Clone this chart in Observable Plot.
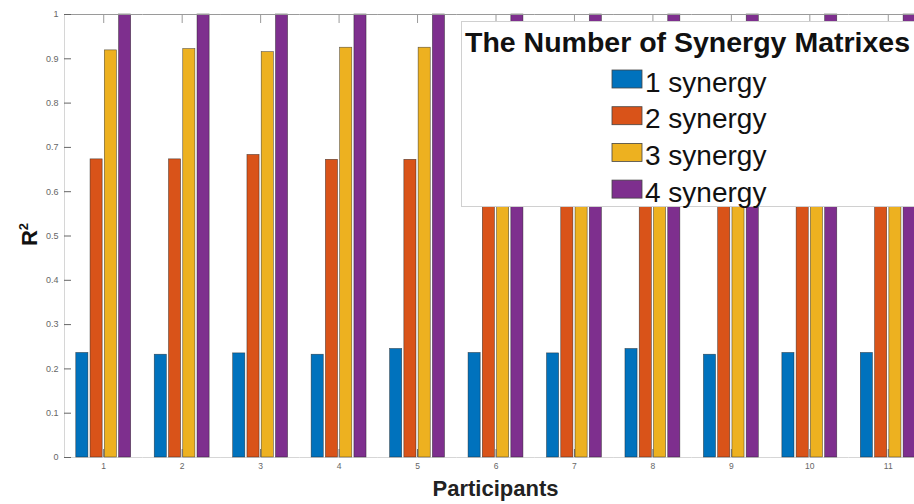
<!DOCTYPE html>
<html>
<head>
<meta charset="utf-8">
<script src="https://cdn.jsdelivr.net/npm/d3@7"></script>
<script src="https://cdn.jsdelivr.net/npm/@observablehq/plot@0.6"></script>
<style>
  html, body { margin: 0; padding: 0; background: #fff; overflow: hidden; }
  #chart { position: relative; width: 914px; height: 504px; overflow: hidden;
           font-family: "Liberation Sans", Arial, Helvetica, sans-serif; }
  #chart > svg { position: absolute; left: 0; top: 0; }
</style>
</head>
<body>
<div id="chart"></div>
<script>
// Participants and the four synergy counts
const participants = [1, 2, 3, 4, 5, 6, 7, 8, 9, 10, 11];
const seriesNames = ["1 synergy", "2 synergy", "3 synergy", "4 synergy"];

// R² per participant for each number of synergies
const oneSynergy   = [0.236, 0.232, 0.235, 0.232, 0.245, 0.236, 0.235, 0.245, 0.232, 0.236, 0.236];
const twoSynergy   = [0.673, 0.673, 0.683, 0.672, 0.672, 0.675, 0.674, 0.677, 0.672, 0.674, 0.676];
const threeSynergy = [0.919, 0.922, 0.915, 0.925, 0.925, 0.921, 0.920, 0.923, 0.918, 0.921, 0.922];
const fourSynergy  = [1, 1, 1, 1, 1, 1, 1, 1, 1, 1, 1];

const seriesColors = ["#0072BD", "#D95319", "#EDB120", "#7E2F8E"];

const yTicks = [0, 0.1, 0.2, 0.3, 0.4, 0.5, 0.6, 0.7, 0.8, 0.9, 1];
const yTickLabels = ["0", "0.1", "0.2", "0.3", "0.4", "0.5", "0.6", "0.7", "0.8", "0.9", "1"];

const legendTitle = "The Number of Synergy Matrixes";
const xLabel = "Participants";
const yLabel = "R";
const yLabelSup = "2";

const seriesValues = [oneSynergy, twoSynergy, threeSynergy, fourSynergy];
const rows = participants.flatMap((p, i) =>
  seriesNames.map((s, k) => ({participant: p, series: s, value: seriesValues[k][i]}))
);

const FONT = '"Liberation Sans", Arial, Helvetica, sans-serif';

const plot = Plot.plot({
  width: 927,
  height: 504,
  marginLeft: 64,
  marginRight: 0,
  marginTop: 14,
  marginBottom: 47,
  style: {fontFamily: FONT, background: "white", maxWidth: "none"},
  fx: {domain: participants, round: false, paddingInner: 0, paddingOuter: 0, label: null},
  x: {domain: seriesNames, round: false, paddingInner: 0.15, paddingOuter: 0.826, axis: null},
  y: {domain: [0, 1], label: null},
  color: {domain: seriesNames, range: seriesColors},
  marks: [
    Plot.ruleY([0], {stroke: "#d6d6d6"}),
    Plot.barY(rows, {
      fx: "participant", x: "series", y: "value", fill: "series",
      stroke: "#1e1e1e", strokeWidth: 0.6, strokeOpacity: 0.7
    }),
    Plot.ruleY([1], {stroke: "#9a9a9a"}),
    Plot.frame({anchor: "left", facetAnchor: "left", stroke: "#d6d6d6"}),
    Plot.axisY(yTicks, {
      tickSize: -7, tickPadding: 13,
      tickFormat: d => yTickLabels[yTicks.indexOf(d)],
      fontSize: 9, color: "#666", label: null
    }),
    Plot.axisFx({anchor: "bottom", tickSize: -8, tickPadding: 13, fontSize: 8.5, color: "#666", label: null}),
    Plot.axisFx({anchor: "top", tickSize: -8, tickFormat: () => "", color: "#9a9a9a", label: null})
  ]
});
plot.style.maxWidth = "none";
document.getElementById("chart").appendChild(plot);

// Axis titles and the legend box drawn on top of the plot
const overlay = d3.select("#chart").append("svg")
  .attr("width", 914).attr("height", 504)
  .style("font-family", FONT)
  .style("pointer-events", "none");

overlay.append("text")
  .attr("transform", "translate(37,234.5) rotate(-90)")
  .attr("text-anchor", "middle")
  .attr("font-weight", "bold")
  .attr("font-size", 22)
  .attr("fill", "#111")
  .call(t => {
    t.append("tspan").text(yLabel);
    t.append("tspan").attr("font-size", 13).attr("dy", -9).text(yLabelSup);
  });

overlay.append("text")
  .attr("x", 495.5).attr("y", 496)
  .attr("text-anchor", "middle")
  .attr("font-weight", "bold")
  .attr("font-size", 22)
  .attr("fill", "#222")
  .text(xLabel);

const legend = overlay.append("g");
legend.append("rect")
  .attr("x", 461.5).attr("y", 21.5)
  .attr("width", 480).attr("height", 185)
  .attr("fill", "white").attr("stroke", "#d0d0d0");
legend.append("text")
  .attr("x", 465).attr("y", 52)
  .attr("font-weight", "bold").attr("font-size", 28.5)
  .attr("fill", "#111")
  .text(legendTitle);
seriesNames.forEach((name, k) => {
  const y0 = 70 + k * 36.7;
  legend.append("rect")
    .attr("x", 612).attr("y", y0).attr("width", 30).attr("height", 18)
    .attr("fill", seriesColors[k]).attr("stroke", "#444").attr("stroke-width", 0.8);
  legend.append("text")
    .attr("x", 645).attr("y", y0 + 21.5)
    .attr("font-size", 28).attr("fill", "#111")
    .text(name);
});
</script>
</body>
</html>
